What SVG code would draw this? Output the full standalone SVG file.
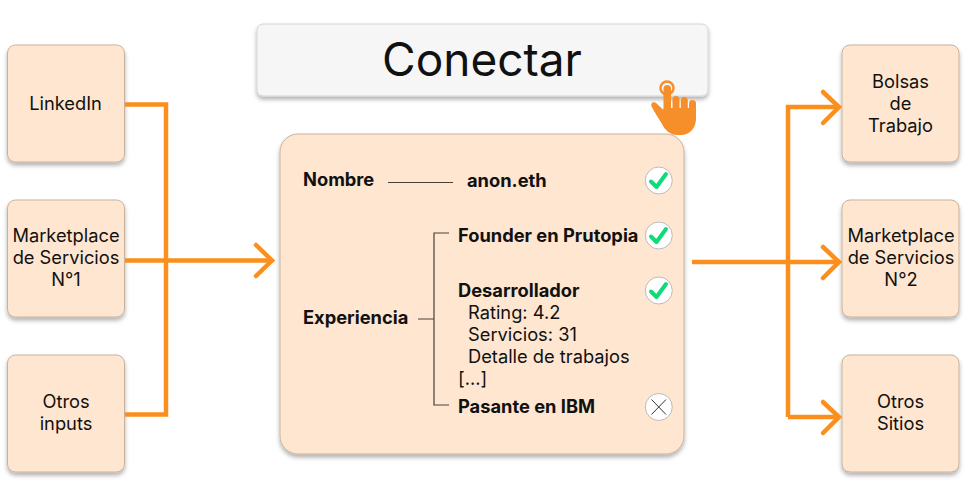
<svg xmlns="http://www.w3.org/2000/svg" width="970" height="490" viewBox="0 0 970 490">
<defs>
<filter id="sh" x="-10%" y="-10%" width="120%" height="125%"><feDropShadow dx="0" dy="3" stdDeviation="2" flood-color="#000" flood-opacity="0.3"/></filter>
</defs>
<style>
text{font-family:Inter,"Liberation Sans",sans-serif;fill:#111;font-size:18.3px}
.c{text-anchor:middle}
.b{font-weight:700}
.box{fill:#fee6d0;stroke:#c9b29c;stroke-width:1;filter:url(#sh)}
.conn{fill:none;stroke:#fb8f1d;stroke-width:4.5}
.head{fill:none;stroke:#fb8f1d;stroke-width:4.5;stroke-linecap:round;stroke-linejoin:miter}
.thin{fill:none;stroke:#4a4038;stroke-width:1.2}
.chk{fill:#fff;stroke:#bbb;stroke-width:1}
.tick{fill:none;stroke:#0fdc78;stroke-width:4;stroke-linecap:round;stroke-linejoin:round}
.hand{fill:#f68e2a}
</style>
<rect width="970" height="490" fill="#fff"/>
<g id="node-linkedin"><rect class="box" x="7.500" y="45" width="117" height="117" rx="8"/><text class="c" x="65.500" y="110">LinkedIn</text></g>
<g id="node-marketplace1"><rect class="box" x="7.500" y="200" width="117" height="117" rx="8"/><text class="c" x="66" y="242">Marketplace</text><text class="c" x="66" y="264">de Servicios</text><text class="c" x="66" y="286">N°1</text></g>
<g id="node-otros-inputs"><rect class="box" x="7.500" y="355" width="117" height="117" rx="8"/><text class="c" x="66" y="408">Otros</text><text class="c" x="66" y="430">inputs</text></g>
<g id="node-bolsas"><rect class="box" x="842" y="45" width="117" height="117" rx="8"/><text class="c" x="900.500" y="88">Bolsas</text><text class="c" x="900.500" y="110">de</text><text class="c" x="900.500" y="132">Trabajo</text></g>
<g id="node-marketplace2"><rect class="box" x="842" y="200" width="117" height="117" rx="8"/><text class="c" x="901" y="242">Marketplace</text><text class="c" x="901" y="264">de Servicios</text><text class="c" x="901" y="286">N°2</text></g>
<g id="node-otros-sitios"><rect class="box" x="842" y="355" width="117" height="117" rx="8"/><text class="c" x="900.500" y="408">Otros</text><text class="c" x="900.500" y="430">Sitios</text></g>
<g id="connectors">
<path class="conn" d="M125 104.500H166V414.500H125"/>
<path class="conn" d="M125 260.500H271"/>
<path class="head" d="M256 245L272 260.500L256 276"/>
<path class="conn" d="M692 262H838"/>
<path class="conn" d="M788 417V107H838"/>
<path class="conn" d="M788 417H838"/>
<path class="head" d="M823 92L839 107L823 123"/>
<path class="head" d="M823 247L839 262L823 278"/>
<path class="head" d="M823 402L839 417L823 433"/>
</g>
<g id="node-card">
<rect x="280" y="134" width="404" height="320" rx="18" fill="#fee6d0" stroke="#c9b29c" filter="url(#sh)"/>
<text class="b" x="303" y="186">Nombre</text>
<path class="thin" d="M388 182.500H453"/>
<text class="b" x="467" y="187">anon.eth</text>
<text class="b" x="303" y="324">Experiencia</text>
<path class="thin" d="M418 319H434M449 233H434V405H449"/>
<text class="b" x="458" y="242">Founder en Prutopia</text>
<text class="b" x="458" y="297">Desarrollador</text>
<text x="468" y="319">Rating: 4.2</text>
<text x="468" y="341">Servicios: 31</text>
<text x="468" y="363">Detalle de trabajos</text>
<text x="458" y="385">[...]</text>
<text class="b" x="458" y="413">Pasante en IBM</text>
<circle class="chk" cx="658.800" cy="180.500" r="13.500"/><path class="tick" d="M651 181.500L656.500 187L666 174"/>
<circle class="chk" cx="658.800" cy="235.500" r="13.500"/><path class="tick" d="M651 236.500L656.500 242L666 229"/>
<circle class="chk" cx="658.800" cy="290.500" r="13.500"/><path class="tick" d="M651 291.500L656.500 297L666 284"/>
<circle class="chk" cx="658.800" cy="407" r="13.500"/><path d="M651.500 399.500L666 414.500M666 399.500L651.500 414.500" fill="none" stroke="#333" stroke-width="1"/>
</g>
<g id="node-conectar">
<rect x="257" y="24" width="451" height="72" rx="6" fill="#f6f6f6" stroke="#d4d4d4" filter="url(#sh)"/>
<text class="c" x="482" y="76" style="font-size:46px">Conectar</text>
<g id="hand-icon">
<circle cx="667" cy="88" r="6.500" fill="none" stroke="#f68e2a" stroke-width="2.500"/>
<rect class="hand" x="663.500" y="85" width="7.500" height="34" rx="3.700"/>
<rect class="hand" x="672.500" y="96" width="7" height="24" rx="3.500"/>
<rect class="hand" x="680.800" y="97" width="7" height="24" rx="3.500"/>
<rect class="hand" x="689" y="100" width="7" height="22" rx="3.500"/>
<path class="hand" d="M663.500 108H696V118C696 128 690 135 681 135H677C670 135 665 130 662 124C659 119 655 113 651.500 106.500C650.500 103 653 101 656 103L663.500 110Z"/>
</g>
</g>
</svg>
